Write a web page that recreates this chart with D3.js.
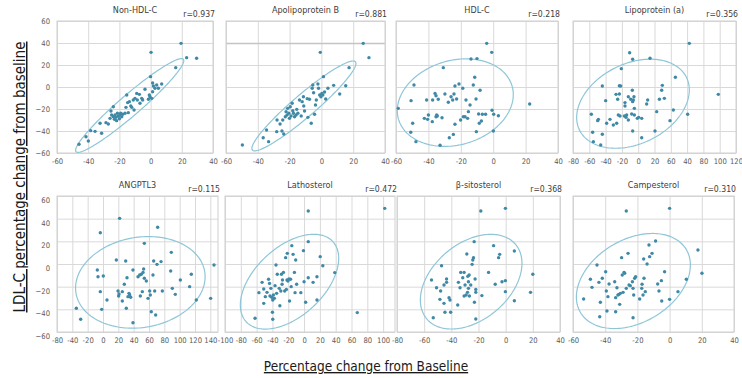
<!DOCTYPE html>
<html>
<head>
<meta charset="utf-8">
<script src="https://cdn.jsdelivr.net/npm/d3@7/dist/d3.min.js"></script>
<style>
  body { margin: 0; background: #fff; }
  svg text { font-family: "DejaVu Sans Condensed", "DejaVu Sans", sans-serif; }
</style>
</head>
<body>
<div id="container"></div>
<script>
// panel titles and correlation labels
const panelNames = ["Non-HDL-C", "Apolipoprotein B", "HDL-C", "Lipoprotein (a)",
                    "ANGPTL3", "Lathosterol", "β-sitosterol", "Campesterol"];
const rValues = ["0.937", "0.881", "0.218", "0.356", "0.115", "0.472", "0.368", "0.310"];

const yTicks = [-60, -40, -20, 0, 20, 40, 60];
const xDomains = [[-60, 40], [-60, 40], [-60, 40], [-80, 120],
                  [-60, 150], [-100, 115], [-80, 40], [-60, 40]];
const xTicks = [
  [-60, -40, -20, 0, 20, 40],
  [-60, -40, -20, 0, 20, 40],
  [-60, -40, -20, 0, 20, 40],
  [-80, -60, -40, -20, 0, 20, 40, 60, 80, 100, 120],
  [-60, -40, -20, 0, 20, 40, 60, 80, 100, 120, 140],
  [-100, -80, -60, -40, -20, 0, 20, 40, 60, 80, 100],
  [-80, -60, -40, -20, 0, 20, 40],
  [-60, -40, -20, 0, 20, 40]
];
// tick texts as printed in the figure
const xTickLabels = [
  ["-60", "-40", "-20", "0", "20", "40"],
  ["-60", "-40", "-20", "0", "20", "40"],
  ["-60", "-40", "-20", "0", "20", "40"],
  ["-80", "-60", "-40", "-20", "0", "20", "60", "40", "80", "100", "120"],
  ["-80", "-40", "-20", "0", "20", "40", "60", "80", "100", "120", "140"],
  ["-100", "-80", "-60", "-40", "-20", "0", "20", "40", "60", "80", "100"],
  ["-80", "-60", "-40", "-20", "0", "20", "40"],
  ["-60", "-40", "-20", "0", "20", "40"]
];

// [x % change, LDL-C % change]
const nonHdlC = [[-45.9,-52.1],[-41.4,-45.2],[-39.9,-49.1],[-38.4,-39.7],[-35.6,-40.3],[-31.4,-42.1],[-32.4,-33],
  [-28.6,-32.4],[-27.1,-33.6],[-26,-28.5],[-25.4,-21.8],[-25,-25.5],[-23.9,-27],[-23.2,-29.4],[-22.8,-25.5],
  [-22.2,-27.6],[-21.8,-30.6],[-21.3,-23.9],[-20.7,-26.4],[-20,-28.8],[-19.6,-25.5],[-19.2,-23.9],[-18.5,-27],
  [-17.9,-24.8],[-16.4,-23.9],[-15.8,-18.5],[-15.3,-7.3],[-14.7,-14.2],[-14.3,-23.3],[-13.6,-13.3],[-12.1,-18.5],
  [-11.1,-11.8],[-10.6,-20.9],[-10,-10.3],[-8.9,-5.8],[-8.5,-11.8],[-7.2,-6.7],[-6.8,-14.8],[-5.7,-10.3],
  [-5.1,-11.8],[-3.6,-2.1],[-1.4,-11.2],[-0.8,-7.3],[-0.4,-8.8],[0,9.4],[0.3,31.5],[0.7,-10.3],[1.3,-4.3],
  [1.8,0.9],[2.8,-1.2],[3.9,1.8],[5,-1.2],[7.1,2.7],[16.1,17.6],[19.5,39.7],[23.1,26.7],[29.5,26.1],
  [1.3,3.6],[-23.9,-17.9],[-12.7,-17.3]];
const apoB = [[-49.7,-52.7],[-36.6,-46.1],[-34.5,-39.1],[-33.2,-49.7],[-28.1,-40.6],[-27.9,-30],[-26,-33.6],
  [-24.8,-40],[-23.7,-42.7],[-24.3,-30],[-22.7,-27],[-22.2,-22.4],[-21.6,-25.5],[-21.2,-19.4],[-20.5,-23.9],
  [-20.1,-28.5],[-19.1,-26.4],[-18.4,-14.8],[-18,-21.5],[-16.9,-27],[-15.9,-25.5],[-14.8,-23.9],[-13.8,-11.8],
  [-12.7,-26.4],[-12.1,-13.3],[-11.3,-8.8],[-10.6,-21.8],[-8.9,-10.6],[-7.5,-11.2],[-6.4,-33],[-5.8,-1.2],
  [-5.4,1.8],[-4.9,-5.2],[-4.3,-24.8],[-3.7,-16.4],[-3.2,-11.8],[-2.2,2.7],[-1.8,-1.2],[-1.1,-7.3],[-0.7,31.5],
  [-0.3,-8.8],[0.3,-5.8],[0.9,-7.3],[1.3,9.4],[2,-4.5],[2.7,-10.9],[4.1,-1.2],[7.7,1.5],[11.5,-6.4],[15.3,1.2],
  [17.4,17.6],[26.3,39.7],[29.9,26.7],[-15.5,-20.3],[-11.1,-17.3],[-8.5,-27.6],[-17.6,-23.9],[-19.6,-17.9]];
const hdlC = [[-58.6,-19.4],[-50.7,-12.4],[-49.7,-33],[-50.9,-41.2],[-48.9,1.8],[-47.7,-49.7],[-42.5,-28.5],
  [-41.1,-11.8],[-40,-25.5],[-40.5,-29.4],[-37.6,-31.5],[-37.4,-11.8],[-35.9,-5.8],[-35.3,-27],[-34.9,-25.5],
  [-34.5,-26.4],[-35.3,-7.9],[-33.9,-11.2],[-32.8,-53],[-31.6,-27.9],[-30.8,17.6],[-29.8,-6.4],[-27.7,-13.9],
  [-27.1,-46.1],[-26,-8.8],[-25,-11.8],[-24.6,-43.1],[-24.2,-6.4],[-23.6,-33.9],[-22.6,-10.9],[-23.6,0.9],
  [-21.1,2.7],[-20.1,-30],[-18.8,-1.2],[-18.4,-27],[-17.4,-27],[-16.8,-11.8],[-15.8,-28.5],[-15.3,-22.4],
  [-14.3,-16.4],[-13.7,25.5],[-12.3,1.8],[-11.4,8.8],[-10.6,-10.9],[-10.4,-40.6],[-10,25.8],[-9,-24.5],
  [-8.6,-33],[-8.1,-3],[-7.3,-30.9],[-6.7,-24.8],[-4,39.7],[-4.7,-24.8],[-0.9,31.5],[-0.7,-21.2],[0.1,-40],
  [0.3,-24.8],[3.2,-26.1],[22.5,-15.5]];
const lpa = [[-57.5,-24.8],[-55,-49.7],[-55.9,-41.2],[-49.7,-30.6],[-48.9,-29.4],[-46,-52.7],[-44,-43],[-44,0.9],
  [-39.9,-12.4],[-38.7,-33],[-34.6,-29.4],[-30.5,-34.5],[-27.2,-6.7],[-26.4,-33],[-25.2,-11.2],[-24.4,-25.5],
  [-23.1,-6.4],[-22.3,-26.4],[-23.1,1.2],[-21.5,0.9],[-20.7,16.7],[-16.9,-26.4],[-16.2,-14.2],[-16.2,-17.3],
  [-15,-27.6],[-14.2,-25.5],[-12.1,-8.8],[-12.1,-30],[-10.5,31.2],[-9.2,-11.2],[-8,-24.5],[-7.2,-3],[-6.8,-40],
  [-6.8,25.2],[-6.8,-13.3],[-6,-11.8],[-5.2,-8.8],[-4.7,-25.5],[-4.7,-19.4],[-1.1,-28.5],[0.6,-27.6],[4.3,-28.5],
  [4.3,-46.1],[10.4,-15.5],[11.6,-11.8],[14.5,26.1],[20.6,-40],[22.7,-22.4],[26,-11.2],[28.8,-3],[29.6,1.5],
  [32.1,-10.3],[39,-30.6],[43.1,-20.9],[45.6,8.8],[60.7,-24.8],[62.7,39.7],[98.3,-6.7]];
const angptl3 = [[-34.8,-39.1],[-29.1,-48.8],[-7.4,-5.3],[-6.5,-11.2],[-3.5,27.6],[-3.5,-24.4],[-1.7,-40],
  [0.4,-10.6],[5.2,-31.8],[17.4,3.5],[19.6,-23.8],[20.4,-28.2],[20.9,-26.5],[21.7,40.3],[25.2,-24.4],[25.2,-32.6],
  [27.8,-17.9],[29.6,2.6],[30.4,-39.1],[31.3,-12.1],[32.6,-28.8],[33.9,-25.9],[34.8,-27.4],[36.1,-29.4],
  [39.1,-51.8],[39.1,-5.3],[47.8,-9.7],[48.7,-28.2],[50,-9.1],[51.3,-24.4],[52.2,-7.4],[53,-4.4],[53.9,18.2],
  [53.9,-12.6],[56.5,-15],[58.7,-30.3],[60.9,-23.8],[61.7,-27.4],[63,-42.1],[65.2,-9.7],[66.1,2.6],[67.4,-23.8],
  [68.7,-45],[70.4,-0.3],[71.3,32.4],[75.7,2.1],[77.4,-23.8],[88.3,-6.2],[89.1,10.3],[90.4,-21.5],[94.3,-26.8],
  [100.9,-14.1],[113,-20],[115.2,-9.1],[121.7,-31.8],[140.4,-30.3],[144.8,-0.9],[45.7,-11.2]];
const lathosterol = [[-62,-47.9],[-57.1,-25.3],[-53.1,-16.2],[-51,-22.1],[-51,-34.7],[-49,-28.8],[-44.9,-13.5],
  [-43.7,-17.1],[-43.1,-28.2],[-42,-21.5],[-40.8,-29.4],[-40,-42.6],[-39.6,-31.8],[-39.6,-48.8],[-38.8,-27.4],
  [-37.6,-30.3],[-36.7,-19.1],[-35.5,-0.9],[-33.9,-9.1],[-31.4,-21.5],[-30.6,-36.8],[-29.4,-23.8],[-28.6,-9.1],
  [-27.8,-17.9],[-27.3,-14.1],[-26.1,-7.4],[-24.5,-23.8],[-23.3,5.6],[-22.4,-22.4],[-21.6,-14.1],[-21.2,9.4],
  [-20.4,-15],[-19.2,-13.2],[-18.4,-32.6],[-17.1,-13.5],[-16.3,-20],[-15.5,16.2],[-13.9,8.5],[-12.2,-7.4],
  [-11.4,-25.3],[-10.6,3.5],[-9.4,-17.9],[-4.1,-25.3],[-0.8,11.8],[0,-15.6],[2,-33.8],[5.3,46.8],[5.3,-12.1],
  [5.3,19.7],[11.4,-16.2],[16.3,-11.2],[16.3,-31.8],[20.4,6.5],[23.7,-1.5],[38.8,-7.6],[67.3,-42.9],[102,49.1],
  [-46.9,-25],[-34.7,-25.9]];
const sitosterol = [[-54.6,-14.1],[-53.3,-47.4],[-50.9,-20.9],[-47.9,-23.8],[-48.4,-31.2],[-47.2,-1.5],
  [-45.4,-18.5],[-45.4,-34.7],[-44.7,-42.6],[-43.5,-16.2],[-43.5,-13.2],[-41.7,-29.7],[-41,-31.8],[-40.5,-42.6],
  [-35.3,-36.2],[-34.8,-16.2],[-33.6,-20.9],[-33.1,-7.4],[-31.6,-12.1],[-30.6,-28.2],[-30.6,-7.4],[-29.9,-18.5],
  [-29.1,-27.4],[-28.6,8.8],[-28.1,-25],[-27.9,-10.9],[-27.4,-15.6],[-27.4,-21.5],[-26.9,-9.7],[-26.7,-28.2],
  [-25.7,-18.5],[-24.7,-0.3],[-24.2,3.5],[-23.7,5.6],[-23.2,19.7],[-23,-33.8],[-22.5,-13.2],[-22,-22.4],
  [-22,-25],[-22,-48.5],[-18.3,46.8],[-17.5,-27.9],[-12.6,-7.4],[-8.9,16.2],[-7.7,-17.9],[-5.2,5.6],[-4.4,8.5],
  [-2.7,-15.6],[-0.2,49.1],[-0.2,-14.7],[-0.2,-24.4],[6.4,11.5],[6.4,-32.4],[18.3,-25],[20,-9.1]];
const campesterol = [[-53.4,-30.9],[-49.2,-13.5],[-48.2,-20.6],[-45.1,-0.9],[-43.9,-16.2],[-43.4,-46.5],
  [-43,-33.8],[-41.8,-12.6],[-39.7,-6.8],[-39.3,-23.8],[-38.9,-41.5],[-38.3,-28.8],[-37.6,-17.6],[-34.1,-15.6],
  [-33.5,-29.7],[-33.5,-42.1],[-32.7,-20.9],[-32.1,-27.4],[-31.4,-26.8],[-31,-35.6],[-30.6,-25.9],[-29.8,5.6],
  [-29.4,-9.7],[-28.9,-25],[-28.3,-7.4],[-27.9,-8.2],[-26.9,46.8],[-26.9,-21.5],[-25.8,9.4],[-25.2,-18.5],
  [-24.4,-19.1],[-23.1,-15.6],[-22.7,-21.5],[-22.7,-47.4],[-22.3,-27.4],[-21.7,-12.6],[-21.1,-11.2],[-18.6,-30.9],
  [-17.3,-21.5],[-17.1,-17.9],[-16.5,-27.4],[-16.1,4.4],[-15.9,-12.6],[-15.1,-24.4],[-14,0],[-12.8,16.8],
  [-12.4,6.5],[-10.9,9.4],[-8.7,20.3],[-7.4,-17.6],[-6.6,-23.8],[-5.1,-14.7],[-4.9,-32.6],[-3.1,-6.8],[0,49.1],
  [0,-31.2],[5.2,-24.4],[10.4,-13.5],[17.6,12.4],[20.1,-8.2]];
const panelData = [nonHdlC, apoB, hdlC, lpa, angptl3, lathosterol, sitosterol, campesterol];

// confidence ellipses: centre and two conjugate half-axes, in data units
const ellipseCentres = [[-13.4,-16.8],[-11,-17.2],[-23.4,-14.2],[-6.4,-15.2],
                        [48.7,-16.2],[-18.4,-15.6],[-25.4,-15.6],[-22.5,-15]];
const ellipseAxisA = [[34.4,42],[32.4,40.1],[35.8,7.3],[69.1,12.5],
                      [84.5,5],[62.2,20.6],[37.4,16.2],[35.4,14.1]];
const ellipseAxisB = [[4.4,-7.2],[4.6,-7.8],[0,39.1],[0,38.5],
                      [0,40.1],[0,36.4],[0,38.5],[0,39.5]];

// plot area boxes in the page
const frames = [
  {x0: 57, x1: 213, y0: 21, y1: 153}, {x0: 226, x1: 385, y0: 21, y1: 153},
  {x0: 396, x1: 558, y0: 21, y1: 153}, {x0: 573, x1: 736, y0: 21, y1: 153},
  {x0: 57, x1: 218, y0: 196, y1: 332}, {x0: 225, x1: 395, y0: 196, y1: 332},
  {x0: 397, x1: 560, y0: 196, y1: 332}, {x0: 573, x1: 734, y0: 196, y1: 332}
];

const svg = d3.select("#container")
  .append("svg")
  .attr("width", 742)
  .attr("height", 378);

const gridColor = "#d9d9d9";
const dotColor = "#3f89a6";
const ellipseColor = "#8ec6d8";

panelData.forEach((data, i) => {
  const f = frames[i];
  const w = f.x1 - f.x0, h = f.y1 - f.y0;
  const g = svg.append("g").attr("transform", `translate(${f.x0},${f.y0})`);

  const x = d3.scaleLinear().domain(xDomains[i]).range([0, w]);
  const y = d3.scaleLinear().domain([-60, 60]).range([h, 0]);

  // x grid + labels
  const xa = g.append("g")
    .attr("transform", `translate(0,${h})`)
    .call(d3.axisBottom(x)
      .tickValues(xTicks[i])
      .tickFormat((d, k) => xTickLabels[i][k])
      .tickSize(-h)
      .tickPadding(6));
  xa.select(".domain").remove();
  xa.selectAll("line").attr("stroke", gridColor);
  xa.selectAll("text").attr("fill", "#595959").style("font-size", "7.6px");

  const ya = g.append("g")
    .call(d3.axisLeft(y)
      .tickValues(yTicks)
      .tickSize(-w)
      .tickPadding(7));
  ya.select(".domain").remove();
  ya.selectAll("line").attr("stroke", gridColor);
  ya.selectAll("text").attr("fill", "#595959").style("font-size", "7.6px");
  if (i >= 4) ya.selectAll("text").attr("y", 4);
  if (i % 4 !== 0) ya.selectAll("text").remove();

  // Apolipoprotein B panel has a darker line at +40
  if (i === 1) {
    ya.selectAll(".tick").filter(d => d === 40).select("line")
      .attr("stroke", "#c4c4c4").attr("stroke-width", 1.5);
  }

  g.append("rect")
    .attr("width", w)
    .attr("height", h)
    .attr("fill", "none")
    .attr("stroke", "#d0d0d0");

  const c = ellipseCentres[i], a = ellipseAxisA[i], b = ellipseAxisB[i];
  const ts = d3.range(0, 2 * Math.PI, Math.PI / 90);
  g.append("path")
    .datum(ts)
    .attr("d", d3.line()
      .x(t => x(c[0] + a[0] * Math.cos(t) + b[0] * Math.sin(t)))
      .y(t => y(c[1] + a[1] * Math.cos(t) + b[1] * Math.sin(t)))
      .curve(d3.curveLinearClosed))
    .attr("fill", "none")
    .attr("stroke", ellipseColor)
    .attr("stroke-width", 1.2);

  g.selectAll(".dot")
    .data(data)
    .enter()
    .append("circle")
    .attr("class", "dot")
    .attr("cx", d => x(d[0]))
    .attr("cy", d => y(d[1]))
    .attr("r", 1.7)
    .attr("fill", dotColor);

  g.append("text")
    .attr("x", w / 2)
    .attr("y", -8)
    .attr("text-anchor", "middle")
    .attr("fill", "#404040")
    .style("font-size", "9px")
    .text(panelNames[i]);

  g.append("text")
    .attr("x", w + 2)
    .attr("y", -4)
    .attr("text-anchor", "end")
    .attr("fill", "#404040")
    .style("font-size", "8.6px")
    .text("r=" + rValues[i]);
});

svg.append("text")
  .attr("transform", "translate(25,177) rotate(-90)")
  .attr("text-anchor", "middle")
  .attr("fill", "#1a1a1a")
  .style("font-size", "15px")
  .style("text-decoration", "underline")
  .text("LDL-C percentage change from baseline");

svg.append("text")
  .attr("x", 366)
  .attr("y", 371)
  .attr("text-anchor", "middle")
  .attr("fill", "#1a1a1a")
  .style("font-size", "13.5px")
  .style("text-decoration", "underline")
  .text("Percentage change from Baseline");
</script>
</body>
</html>
